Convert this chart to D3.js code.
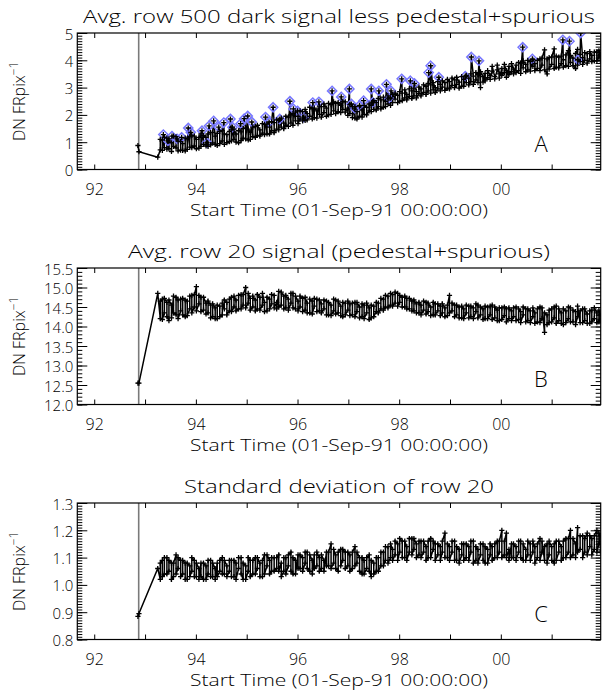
<!DOCTYPE html>
<html><head><meta charset="utf-8">
<script src="https://cdn.jsdelivr.net/npm/d3@7"></script>
<style>body{margin:0;background:#fff}</style>
</head><body>
<svg id="chart" width="603" height="691"></svg>
<script>
// ---------------- DATA ----------------
// observation epochs (years since 1900); two exposures per epoch
const times = [
93.30,93.34,93.38,93.43,93.47,93.52,93.56,93.61,93.65,93.70,
93.74,93.79,93.83,93.88,93.92,93.97,94.01,94.06,94.10,94.15,
94.20,94.24,94.29,94.33,94.38,94.42,94.47,94.52,94.56,94.61,
94.66,94.70,94.75,94.79,94.84,94.89,94.93,94.98,95.03,95.07,
95.12,95.17,95.21,95.26,95.31,95.35,95.40,95.45,95.49,95.54,
95.59,95.63,95.68,95.73,95.77,95.82,95.87,95.91,95.96,96.01,
96.05,96.10,96.15,96.19,96.24,96.29,96.33,96.38,96.43,96.47,
96.52,96.57,96.61,96.66,96.71,96.75,96.80,96.85,96.89,96.94,
96.99,97.03,97.08,97.13,97.17,97.22,97.27,97.31,97.36,97.41,
97.45,97.50,97.55,97.59,97.64,97.69,97.73,97.78,97.83,97.87,
97.92,97.97,98.01,98.06,98.11,98.15,98.20,98.25,98.29,98.34,
98.39,98.43,98.48,98.53,98.57,98.62,98.67,98.71,98.76,98.81,
98.85,98.90,98.95,98.99,99.04,99.09,99.13,99.18,99.23,99.27,
99.32,99.37,99.41,99.46,99.51,99.55,99.60,99.65,99.69,99.74,
99.79,99.83,99.88,99.93,99.97,100.02,100.07,100.11,100.16,100.21,
100.25,100.30,100.35,100.39,100.44,100.49,100.53,100.58,100.63,100.67,
100.72,100.77,100.81,100.86,100.91,100.95,101.00,101.05,101.09,101.14,
101.19,101.23,101.28,101.33,101.37,101.42,101.47,101.51,101.56,101.61,
101.65,101.70,101.75,101.79,101.84,101.89,101.93,101.96];

// early isolated measurements (Nov 1992 and spring 1993)
const preTimes = [92.86, 92.88, 93.25];
const eventYear = 92.875;

// Panel A: avg row 500 dark signal less pedestal+spurious
const darkPre = [0.88, 0.65, 0.45];
const darkVals = [
0.72,1.08,0.80,1.15,0.76,0.98,1.22,0.79,1.04,0.71,
0.95,0.68,1.12,0.82,1.25,0.86,1.10,0.78,1.30,0.92,
1.18,0.85,1.35,0.97,1.22,0.88,1.40,1.05,0.92,1.28,
1.02,1.45,1.10,1.30,0.98,1.38,1.15,1.52,1.08,1.36,
1.20,1.58,1.25,1.45,1.33,1.65,1.30,1.55,1.42,1.72,
1.48,1.80,1.55,1.70,1.62,1.92,1.70,2.05,1.78,1.95,
1.85,2.12,1.80,2.05,1.95,2.22,1.90,2.15,2.02,2.30,
2.08,2.25,2.00,2.38,2.15,2.42,2.12,2.35,2.20,2.48,
2.25,2.05,2.30,1.88,2.12,1.95,2.18,2.02,2.28,2.15,
2.35,2.20,2.45,2.30,2.55,2.28,2.50,2.40,2.62,2.45,
2.58,2.72,2.50,2.80,2.62,2.75,2.68,2.88,2.70,2.85,
2.78,2.95,2.82,3.05,2.88,3.10,2.92,3.00,2.95,3.12,
3.02,3.18,2.98,3.22,3.08,3.28,3.12,3.20,3.05,3.30,
3.18,3.35,3.22,3.42,3.28,3.48,3.00,3.40,3.52,3.36,
3.45,3.60,3.40,3.65,3.50,3.70,3.55,3.62,3.78,3.58,
3.68,3.82,3.62,3.90,3.72,3.85,3.65,3.95,3.78,3.88,
3.70,4.05,3.82,4.38,3.50,4.10,3.85,4.42,3.75,4.12,
3.88,4.02,3.80,4.35,3.92,4.08,3.70,4.40,3.95,4.10,
4.00,4.25,4.05,4.18,3.98,4.30,4.12,4.22];
const darkVals2 = [
1.10,0.70,1.18,0.75,1.12,0.66,0.85,1.20,0.68,1.02,
0.70,1.15,0.74,1.20,0.80,1.22,0.76,1.18,0.85,1.25,
0.86,1.30,0.90,1.36,0.92,1.32,0.95,1.42,1.30,0.98,
1.40,1.05,1.48,1.00,1.42,1.06,1.50,1.12,1.48,1.10,
1.55,1.18,1.62,1.22,1.68,1.28,1.66,1.30,1.75,1.35,
1.82,1.45,1.88,1.50,1.95,1.58,2.00,1.62,2.10,1.68,
2.15,1.78,2.20,1.82,2.28,1.85,2.25,1.88,2.32,1.92,
2.40,1.95,2.42,2.02,2.48,2.05,2.45,2.08,2.50,2.10,
1.98,2.38,1.90,2.30,1.85,2.32,1.92,2.35,2.00,2.40,
2.12,2.52,2.18,2.60,2.22,2.65,2.30,2.70,2.35,2.75,
2.80,2.45,2.85,2.52,2.92,2.55,2.95,2.60,2.98,2.62,
3.02,2.70,3.10,2.75,3.15,2.80,3.18,2.82,3.22,2.88,
3.25,2.90,3.30,2.95,3.35,3.00,3.38,2.98,3.40,3.05,
3.45,3.10,3.50,3.12,3.55,3.18,3.58,3.20,3.25,3.62,
3.30,3.78,3.32,3.82,3.35,3.45,3.85,3.38,3.48,3.88,
3.50,3.55,3.92,3.52,3.98,3.58,4.00,3.60,4.02,3.62,
4.00,3.62,4.08,3.65,4.05,3.68,4.12,3.70,4.15,3.72,
4.15,3.75,4.20,3.78,4.18,3.80,4.25,3.82,4.22,3.85,
4.28,3.90,4.32,3.95,4.30,3.98,4.35,4.00];
// flagged (diamond) measurements in panel A
const flagTimes = [93.36,93.45,93.53,93.63,93.72,93.85,93.90,94.12,94.22,94.26,
94.35,94.45,94.55,94.68,94.72,94.88,94.95,95.02,95.10,95.37,
95.44,95.52,95.65,95.85,95.92,96.00,96.12,96.30,96.42,96.68,
96.86,97.02,97.06,97.12,97.22,97.30,97.45,97.48,97.60,97.75,
97.80,97.84,98.05,98.22,98.30,98.58,98.62,98.78,99.30,99.42,
99.57,100.43,100.62,101.22,101.35,101.52,101.57];
const flagVals = [1.28,1.05,1.22,1.12,1.18,1.52,1.36,1.42,0.98,1.60,
1.78,1.55,1.72,1.85,1.55,1.68,1.86,1.96,1.74,1.92,
1.74,2.28,1.85,2.50,2.22,2.15,1.92,2.45,2.48,2.88,
2.66,2.95,2.40,2.25,2.35,2.52,2.95,2.46,2.88,3.12,
2.60,2.88,3.32,3.25,3.15,3.55,3.80,3.38,3.42,4.12,
3.98,4.48,4.05,4.75,4.70,4.02,5.00];

// Panel B: avg row 20 signal (pedestal+spurious)
const pedPre = [12.55, 12.55, 14.85];
const pedVals = [
14.20,14.70,14.35,14.62,14.15,14.55,14.78,14.30,14.68,14.40,
14.72,14.25,14.65,14.45,14.80,14.50,15.02,14.58,14.75,14.42,
14.60,14.35,14.55,14.25,14.48,14.20,14.52,14.30,14.45,14.62,
14.40,14.75,14.50,14.68,14.45,14.82,14.55,15.00,14.60,14.72,
14.50,14.68,14.45,14.75,14.55,14.62,14.40,14.70,14.58,14.80,
14.62,14.90,14.55,14.78,14.48,14.70,14.60,14.85,14.45,14.65,
14.50,14.72,14.42,14.60,14.35,14.65,14.52,14.70,14.40,14.58,
14.45,14.65,14.30,14.55,14.40,14.68,14.35,14.52,14.25,14.60,
14.42,14.58,14.30,14.62,14.38,14.50,14.25,14.55,14.35,14.48,
14.22,14.52,14.38,14.60,14.45,14.70,14.50,14.78,14.55,14.82,
14.60,14.85,14.62,14.75,14.50,14.72,14.45,14.65,14.40,14.58,
14.35,14.55,14.42,14.62,14.38,14.50,14.30,14.58,14.40,14.52,
14.35,14.48,14.28,14.80,14.40,14.55,14.30,14.50,14.22,14.45,
14.35,14.52,14.25,14.48,14.38,14.55,14.30,14.45,14.20,14.50,
14.30,14.55,14.22,14.42,14.15,14.48,14.28,14.45,14.20,14.40,
14.25,14.50,14.18,14.38,14.30,14.45,14.15,14.40,14.25,14.35,
14.12,14.50,14.20,13.85,14.30,14.10,14.45,14.22,14.52,14.15,
14.35,14.05,14.40,14.20,14.48,14.12,14.38,14.25,14.10,14.45,
14.15,14.32,14.08,14.42,14.20,14.35,14.12,14.30];
const pedVals2 = [
14.65,14.18,14.72,14.25,14.68,14.22,14.35,14.75,14.20,14.70,
14.30,14.68,14.28,14.78,14.35,14.82,14.40,14.80,14.38,14.75,
14.32,14.65,14.22,14.58,14.20,14.55,14.25,14.60,14.68,14.30,
14.70,14.38,14.78,14.40,14.80,14.45,14.82,14.48,14.85,14.42,
14.78,14.40,14.82,14.42,14.85,14.38,14.75,14.45,14.82,14.48,
14.45,14.50,14.88,14.45,14.80,14.42,14.85,14.48,14.78,14.40,
14.78,14.38,14.75,14.35,14.70,14.32,14.72,14.38,14.68,14.35,
14.68,14.30,14.62,14.28,14.70,14.32,14.65,14.28,14.62,14.30,
14.65,14.28,14.60,14.25,14.62,14.22,14.58,14.20,14.60,14.18,
14.55,14.25,14.62,14.35,14.72,14.42,14.80,14.48,14.85,14.52,
14.88,14.52,14.80,14.50,14.78,14.45,14.72,14.40,14.68,14.35,
14.62,14.30,14.65,14.32,14.60,14.28,14.62,14.30,14.58,14.28,
14.58,14.25,14.55,14.35,14.60,14.25,14.55,14.22,14.52,14.20,
14.55,14.22,14.52,14.20,14.58,14.22,14.50,14.18,14.52,14.20,
14.52,14.18,14.50,14.15,14.48,14.18,14.50,14.12,14.48,14.15,
14.48,14.15,14.45,14.10,14.50,14.12,14.45,14.10,14.48,14.08,
14.45,14.10,14.48,14.35,14.05,14.42,14.12,14.50,14.08,14.45,
14.08,14.45,14.10,14.50,14.12,14.42,14.05,14.52,14.40,14.10,
14.45,14.08,14.40,14.12,14.48,14.10,14.42,14.15];

// Panel C: standard deviation of row 20
const sdPre = [0.885, 0.895, 1.06];
const sdVals = [
1.02,1.09,1.04,1.10,1.05,1.08,1.03,1.11,1.06,1.09,
1.04,1.08,1.02,1.07,1.05,1.09,1.03,1.06,1.08,1.02,
1.07,1.04,1.09,1.03,1.06,1.08,1.05,1.10,1.04,1.07,
1.05,1.09,1.03,1.08,1.06,1.10,1.02,1.07,1.05,1.09,
1.04,1.10,1.06,1.08,1.03,1.11,1.07,1.09,1.05,1.10,
1.06,1.11,1.08,1.05,1.10,1.07,1.12,1.04,1.09,1.11,
1.06,1.10,1.08,1.12,1.05,1.09,1.11,1.07,1.10,1.06,
1.09,1.12,1.07,1.15,1.08,1.11,1.05,1.13,1.09,1.12,
1.07,1.11,1.06,1.14,1.08,1.10,1.04,1.09,1.06,1.11,
1.03,1.08,1.05,1.10,1.07,1.12,1.09,1.14,1.10,1.13,
1.11,1.15,1.12,1.16,1.10,1.14,1.12,1.17,1.13,1.15,
1.11,1.16,1.12,1.14,1.10,1.17,1.13,1.15,1.11,1.14,
1.12,1.19,1.10,1.14,1.12,1.16,1.09,1.13,1.11,1.15,
1.10,1.14,1.12,1.16,1.09,1.13,1.11,1.15,1.08,1.13,
1.11,1.14,1.10,1.16,1.12,1.20,1.11,1.19,1.13,1.15,
1.10,1.14,1.12,1.16,1.09,1.13,1.11,1.15,1.12,1.14,
1.10,1.17,1.12,1.09,1.15,1.11,1.14,1.08,1.16,1.12,
1.14,1.10,1.17,1.12,1.20,1.11,1.15,1.21,1.13,1.18,
1.12,1.19,1.14,1.17,1.13,1.20,1.15,1.18];
const sdVals2 = [
1.08,1.03,1.10,1.04,1.09,1.02,1.08,1.04,1.10,1.03,
1.09,1.02,1.08,1.03,1.10,1.03,1.08,1.02,1.03,1.08,
1.02,1.09,1.03,1.08,1.02,1.03,1.09,1.04,1.09,1.03,
1.09,1.03,1.09,1.02,1.10,1.04,1.08,1.02,1.10,1.03,
1.09,1.04,1.10,1.03,1.09,1.04,1.11,1.04,1.10,1.05,
1.10,1.05,1.03,1.10,1.04,1.11,1.05,1.10,1.04,1.06,
1.11,1.05,1.12,1.06,1.11,1.04,1.06,1.12,1.05,1.11,
1.05,1.07,1.12,1.06,1.13,1.06,1.12,1.07,1.13,1.06,
1.12,1.05,1.12,1.07,1.12,1.05,1.10,1.04,1.10,1.05,
1.09,1.04,1.10,1.05,1.12,1.07,1.14,1.08,1.15,1.09,
1.16,1.09,1.17,1.10,1.16,1.09,1.17,1.11,1.17,1.10,
1.16,1.10,1.16,1.09,1.16,1.10,1.16,1.09,1.15,1.09,
1.16,1.10,1.15,1.09,1.16,1.09,1.14,1.08,1.15,1.09,
1.15,1.09,1.16,1.08,1.14,1.08,1.15,1.09,1.14,1.08,
1.15,1.09,1.15,1.10,1.16,1.10,1.16,1.10,1.09,1.10,
1.15,1.09,1.16,1.10,1.15,1.09,1.16,1.09,1.16,1.08,
1.15,1.09,1.16,1.14,1.08,1.16,1.09,1.15,1.09,1.16,
1.09,1.16,1.10,1.17,1.10,1.17,1.10,1.12,1.18,1.10,
1.17,1.11,1.18,1.11,1.18,1.12,1.19,1.12];

const xDomain = [91.667, 101.965];
const xTickYears = [92,93,94,95,96,97,98,99,100,101];
const xTitle = "Start Time (01-Sep-91 00:00:00)";
const titles = ["Avg. row 500 dark signal less pedestal+spurious",
                "Avg. row 20 signal (pedestal+spurious)",
                "Standard deviation of row 20"];
const letters = ["A","B","C"];
const yDomains = [[0,5],[12,15.5],[0.8,1.3]];
const yMajor = [[0,1,2,3,4,5],[12,12.5,13,13.5,14,14.5,15,15.5],[0.8,0.9,1.0,1.1,1.2,1.3]];
const yMinorStep = [0.1, 0.1, 0.01];
const yFormats = [d3.format("d"), d3.format(".1f"), d3.format(".1f")];

// ---------------- LAYOUT ----------------
const svg = d3.select("#chart");
const left = 77.3, right = 600.7;
const frames = [{top:33, bottom:169.5},{top:268, bottom:404.5},{top:503, bottom:639.5}];
const FONT = "'Open Sans', 'DejaVu Sans', sans-serif";
const FW = 300;
const x = d3.scaleLinear().domain(xDomain).range([left, right]);

function series(pre, v1, v2, extraT, extraV) {
  let main = times.flatMap((t,i)=>[{t, v:v1[i], flag:false, k:0},{t, v:v2[i], flag:false, k:1}]);
  if (extraT) main = main.concat(extraT.map((t,i)=>({t, v:extraV[i], flag:true, k:2})));
  main.sort((a,b)=>a.t-b.t || a.k-b.k);
  return preTimes.map((t,i)=>({t, v:pre[i], flag:false})).concat(main);
}
const datasets = [series(darkPre, darkVals, darkVals2, flagTimes, flagVals),
                  series(pedPre, pedVals, pedVals2),
                  series(sdPre, sdVals, sdVals2)];

frames.forEach((f, p) => {
  const y = d3.scaleLinear().domain(yDomains[p]).range([f.bottom, f.top]);
  const g = svg.append("g");
  const clipId = "clip"+p;
  svg.append("clipPath").attr("id", clipId).append("rect")
    .attr("x", left).attr("y", f.top).attr("width", right-left).attr("height", f.bottom-f.top);

  g.append("line").attr("x1", x(eventYear)).attr("x2", x(eventYear))
    .attr("y1", f.top).attr("y2", f.bottom).attr("stroke", "#7a7a7a").attr("stroke-width", 1.6);

  const data = datasets[p];
  const dg = g.append("g").attr("clip-path", `url(#${clipId})`);
  dg.append("path").datum(data)
    .attr("d", d3.line().x(d=>x(d.t)).y(d=>y(d.v)))
    .attr("fill","none").attr("stroke","#000").attr("stroke-width",1.5);
  dg.selectAll("path.dia").data(data.filter(d=>d.flag)).join("path").attr("class","dia")
    .attr("d", d=>{const cx=x(d.t), cy=y(d.v), r=4.6; return `M${cx},${cy-r}L${cx+r},${cy}L${cx},${cy+r}L${cx-r},${cy}Z`;})
    .attr("fill","none").attr("stroke","#7878ff").attr("stroke-width",1.5);
  dg.selectAll("path.pl").data(data).join("path").attr("class","pl")
    .attr("d", d=>{const cx=x(d.t), cy=y(d.v), r=2.6; return `M${cx-r},${cy}H${cx+r}M${cx},${cy-r}V${cy+r}`;})
    .attr("stroke","#000").attr("stroke-width",1.3);

  const lo = yDomains[p][0], hi = yDomains[p][1], st = yMinorStep[p];
  const minor = d3.range(Math.round((hi-lo)/st)+1).map(i=>lo+i*st);
  const styleAxis = a => { a.select(".domain").remove(); a.attr("font-family", FONT).attr("font-weight", FW).attr("font-size", 16);
    a.selectAll("line").attr("stroke","#000"); a.selectAll("text").attr("fill","#000"); };

  const yl = g.append("g").attr("transform",`translate(${left},0)`)
    .call(d3.axisLeft(y).tickValues(yMajor[p]).tickSizeInner(-10).tickSizeOuter(0).tickPadding(4).tickFormat(yFormats[p]));
  styleAxis(yl);
  yl.attr("font-size", 15);
  yl.selectAll(".tick text").attr("dy", null).attr("dominant-baseline","central");
  g.append("g").attr("transform",`translate(${left},0)`)
    .call(d3.axisLeft(y).tickValues(minor).tickSizeInner(-5).tickSizeOuter(0).tickFormat("")).call(styleAxis);
  g.append("g").attr("transform",`translate(${right},0)`)
    .call(d3.axisRight(y).tickValues(yMajor[p]).tickSizeInner(-10).tickSizeOuter(0).tickFormat("")).call(styleAxis);
  g.append("g").attr("transform",`translate(${right},0)`)
    .call(d3.axisRight(y).tickValues(minor).tickSizeInner(-5).tickSizeOuter(0).tickFormat("")).call(styleAxis);

  const xb = g.append("g").attr("transform",`translate(0,${f.bottom})`)
    .call(d3.axisBottom(x).tickValues(xTickYears).tickSizeInner(-5).tickSizeOuter(0).tickPadding(14.5)
      .tickFormat(d=> d%2===0 ? String(d%100).padStart(2,"0") : ""));
  styleAxis(xb);
  g.append("g").attr("transform",`translate(0,${f.top})`)
    .call(d3.axisTop(x).tickValues(xTickYears).tickSizeInner(-5).tickSizeOuter(0).tickFormat("")).call(styleAxis);

  g.append("rect").attr("x",left).attr("y",f.top).attr("width",right-left).attr("height",f.bottom-f.top)
    .attr("fill","none").attr("stroke","#000").attr("stroke-width",1.2);

  const cx = (left+right)/2;
  const tw = [512, 422, 310][p];
  g.append("text").attr("x",cx).attr("y",f.top-10).attr("text-anchor","middle")
    .attr("font-family",FONT).attr("font-weight",FW).attr("font-size",18).attr("textLength",tw).attr("lengthAdjust","spacingAndGlyphs")
    .text(titles[p]);
  g.append("text").attr("x",cx).attr("y",f.bottom+46).attr("text-anchor","middle")
    .attr("font-family",FONT).attr("font-weight",FW).attr("font-size",16).attr("textLength",298).attr("lengthAdjust","spacingAndGlyphs")
    .text(xTitle);
  const yt = g.append("text").attr("transform",`translate(25,${(f.top+f.bottom)/2}) rotate(-90)`)
    .attr("text-anchor","middle").attr("font-family",FONT).attr("font-weight",FW).attr("font-size",16);
  yt.append("tspan").text("DN FRpix");
  yt.append("tspan").attr("dy",-7).attr("font-size",12).text("\u22121");
  g.append("text").attr("x",541).attr("y",f.top+110).attr("dominant-baseline","central").attr("text-anchor","middle")
    .attr("font-family",FONT).attr("font-weight",FW).attr("font-size",22).text(letters[p]);
});
</script>
</body></html>
